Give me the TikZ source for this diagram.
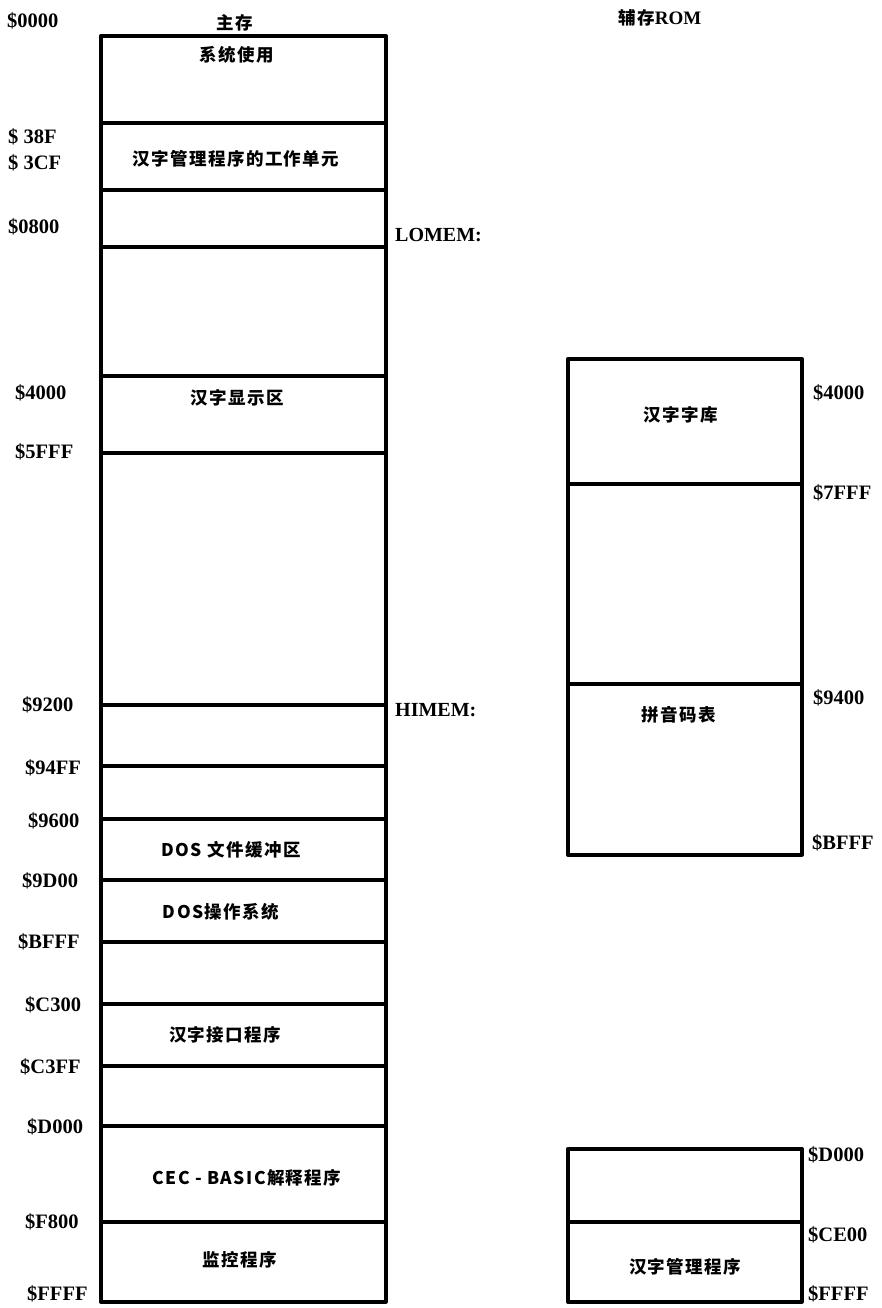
\documentclass[tikz,border=0pt]{standalone}
\usepackage{fontspec}
\setmainfont{Liberation Serif}
\newfontfamily\cjk{Noto Sans CJK SC}[LetterSpace=8]
\begin{document}
\begin{tikzpicture}[x=1pt,y=-1pt,
  wall/.style={draw, line width=3.6pt, line join=round, inner sep=0pt, anchor=north west},
  divider/.style={line width=3.2pt},
  addr/.style={font=\fontsize{20.5}{22}\selectfont\bfseries, inner sep=0pt, anchor=west},
  zh/.style={font=\fontsize{17.5}{19}\selectfont\cjk\bfseries, inner sep=0pt},
  tag/.style={font=\fontsize{20}{22}\selectfont\bfseries, inner sep=0pt, anchor=west}]
\useasboundingbox (0,0) rectangle (882,1308);

% boxes
\node[wall, minimum width=285pt, minimum height=1266pt] (main) at (99,34) {};
\node[wall, minimum width=234pt, minimum height=496pt] (rom1) at (566,357) {};
\node[wall, minimum width=234pt, minimum height=153pt] (rom2) at (566,1147) {};

% dividers
\foreach \yy in {123,190,247,376,453,705,766,819,880,942,1004,1066,1126,1222}
  \draw[divider] (main.west |- 0,\yy) -- (main.east |- 0,\yy);
\foreach \yy in {484,684}
  \draw[divider] (rom1.west |- 0,\yy) -- (rom1.east |- 0,\yy);
\draw[divider] (rom2.west |- 0,1222) -- (rom2.east |- 0,1222);

% titles
\node[zh] (t-main) at (235,23) {主存};
\node[zh] (t-rom) at (660,18) {辅存{\rmfamily\bfseries\fontsize{19}{20}\selectfont ROM}};

% main memory contents
\node[zh] (t-sys) at (237,55) {系统使用};
\node[zh] (t-work) at (236,159) {汉字管理程序的工作单元};
\node[zh] (t-disp) at (237,398) {汉字显示区};
\node[zh] (t-dosbuf) at (231,850) {DOS 文件缓冲区};
\node[zh] (t-dos) at (221,912) {DOS操作系统};
\node[zh] (t-if) at (225,1035) {汉字接口程序};
\node[zh] (t-basic) at (247,1178) {CEC - BASIC解释程序};
\node[zh] (t-mon) at (240,1260) {监控程序};

% ROM contents
\node[zh] (t-font) at (681,415) {汉字字库};
\node[zh] (t-py) at (679,715) {拼音码表};
\node[zh] (t-mgr) at (685,1267) {汉字管理程序};

% left addresses
\node[addr] (a0000) at (7,21) {\$0000};
\node[addr] (a38f) at (8,137) {\$ 38F};
\node[addr] (a3cf) at (8,163) {\$ 3CF};
\node[addr] (a0800) at (8,227) {\$0800};
\node[addr] (a4000) at (15,393) {\$4000};
\node[addr] (a5fff) at (15,452) {\$5FFF};
\node[addr] (a9200) at (22,705) {\$9200};
\node[addr] (a94ff) at (25,768) {\$94FF};
\node[addr] (a9600) at (28,821) {\$9600};
\node[addr] (a9d00) at (22,881) {\$9D00};
\node[addr] (abfff) at (18,942) {\$BFFF};
\node[addr] (ac300) at (25,1005) {\$C300};
\node[addr] (ac3ff) at (20,1067) {\$C3FF};
\node[addr] (ad000) at (27,1127) {\$D000};
\node[addr] (af800) at (25,1222) {\$F800};
\node[addr] (affff) at (27,1294) {\$FFFF};

% pointers
\node[tag] (lomem) at (395,235) {LOMEM:};
\node[tag] (himem) at (395,710) {HIMEM:};

% right addresses
\node[addr] (r4000) at (813,393) {\$4000};
\node[addr] (r7fff) at (813,493) {\$7FFF};
\node[addr] (r9400) at (813,698) {\$9400};
\node[addr] (rbfff) at (812,843) {\$BFFF};
\node[addr] (rd000) at (808,1155) {\$D000};
\node[addr] (rce00) at (808,1235) {\$CE00};
\node[addr] (rffff) at (808,1294) {\$FFFF};
\end{tikzpicture}
\end{document}
